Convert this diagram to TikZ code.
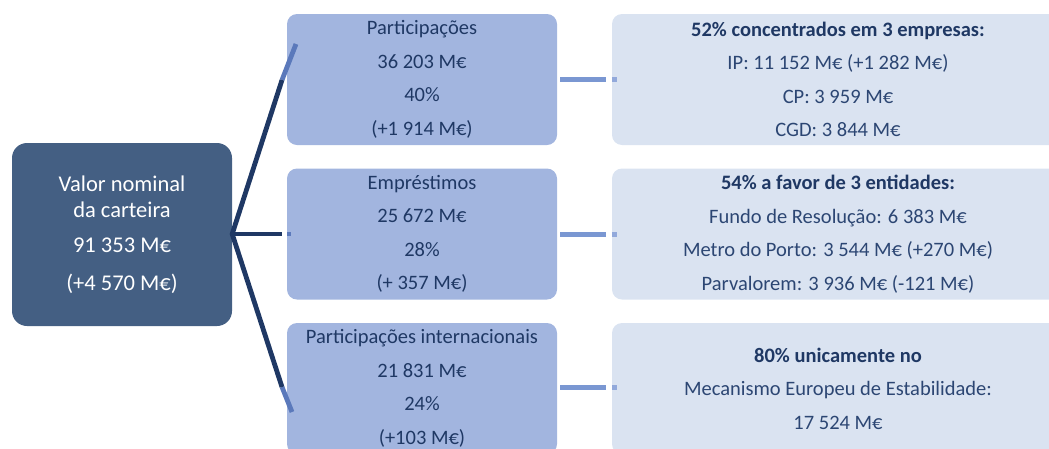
\documentclass[tikz,border=0pt]{standalone}
\usepackage{fontspec}
\setmainfont{Carlito}
\definecolor{leftbox}{HTML}{445F83}
\definecolor{midbox}{HTML}{A2B5DF}
\definecolor{rightbox}{HTML}{DAE3F1}
\definecolor{navy}{HTML}{1F3864}
\definecolor{navylight}{HTML}{2C4673}
\definecolor{connlight}{HTML}{5B79BB}
\definecolor{dashcol}{HTML}{7A97D2}
\definecolor{dashlight}{HTML}{92A9DB}
\begin{document}
\begin{tikzpicture}[x=1pt,y=-1pt,
  leftstyle/.style={fill=leftbox, rounded corners=15pt, minimum width=220pt, minimum height=183pt,
    text=white, align=center, inner sep=0pt, font=\fontsize{22.5}{26}\selectfont},
  midstyle/.style={fill=midbox, rounded corners=10pt, minimum width=270pt, minimum height=131pt,
    text=navy, align=center, inner sep=0pt, font=\fontsize{20.5}{24.5}\selectfont},
  rightstyle/.style={fill=rightbox, rounded corners=10pt, minimum width=452pt, minimum height=131pt,
    text=navylight, align=center, inner sep=0pt, font=\fontsize{20.5}{24.5}\selectfont},
  hubline/.style={draw=navy, line width=4.8pt},
  hubtip/.style={draw=connlight, line width=4.8pt},
  dashline/.style={draw=dashcol, line width=5pt},
  dashtip/.style={draw=dashlight, line width=5pt}
]
\useasboundingbox (0,0) rectangle (1049,448);
\clip (0,0) rectangle (1049,448);

% boxes
\node[leftstyle] (root) at (122,234.5) {Valor nominal\\da carteira\\[9pt]91 353 M€\\[12pt](+4 570 M€)};

\node[midstyle] (m1) at (422,79.5) {Participações\\[9pt]36 203 M€\\[9pt]40\%\\[9pt](+1 914 M€)};
\node[midstyle] (m2) at (422,234) {Empréstimos\\[9pt]25 672 M€\\[9pt]28\%\\[9pt](+ 357 M€)};
\node[midstyle] (m3) at (422,388.5) {Participações internacionais\\[9pt]21 831 M€\\[9pt]24\%\\[9pt](+103 M€)};

\node[rightstyle] (r1) at (838,79.5) {\textbf{\color{navy}52\% concentrados em 3 empresas:}\\[9pt]IP: 11 152 M€ (+1 282 M€)\\[9pt]CP: 3 959 M€\\[9pt]CGD: 3 844 M€};
\node[rightstyle] (r2) at (838,234) {\textbf{\color{navy}54\% a favor de 3 entidades:}\\[9pt]Fundo de Resolução: 6 383 M€\\[9pt]Metro do Porto: 3 544 M€ (+270 M€)\\[9pt]Parvalorem: 3 936 M€ (-121 M€)};
\node[rightstyle] (r3) at (838,388.5) {\textbf{\color{navy}80\% unicamente no}\\[9pt]Mecanismo Europeu de Estabilidade:\\[9pt]17 524 M€};

% hub connectors
\coordinate (hub) at (root.east |- 0,234);
\coordinate (t1a) at (282,80);
\coordinate (t1b) at (296,44);
\coordinate (t2a) at (282,234);
\coordinate (t2s) at (287,234);
\coordinate (t2b) at (291,234);
\coordinate (t3a) at (282,387);
\coordinate (t3b) at (292,412);
\draw[hubtip] (t1a) -- (t1b);
\draw[hubtip] (t2s) -- (t2b);
\draw[hubtip] (t3a) -- (t3b);
\draw[hubline, line join=miter] (t1a) -- (hub) -- (t3a);
\draw[hubline] (hub) -- (t2a);

% dashed connectors middle -> right
\foreach \i/\y in {1/79,2/234,3/387}{
  \coordinate (d\i a) at (m\i.east |- 0,\y);
  \coordinate (d\i b) at (606,\y);
  \coordinate (d\i c) at (r\i.west |- 0,\y);
  \coordinate (d\i d) at (617,\y);
  \draw[dashline] ([xshift=3pt]d\i a) -- (d\i b);
  \draw[dashtip] (d\i c) -- (d\i d);
}
\end{tikzpicture}
\end{document}
